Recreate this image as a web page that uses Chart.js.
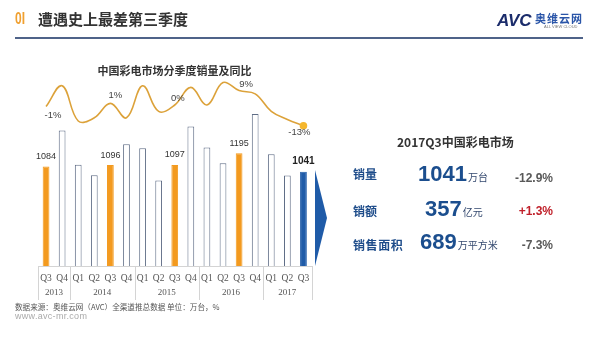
<!DOCTYPE html>
<html>
<head>
<meta charset="utf-8">
<script src="https://cdn.jsdelivr.net/npm/chart.js@4"></script>
<style>
  html, body { margin: 0; padding: 0; background: #fff; }
  #page { position: relative; width: 600px; height: 337px; overflow: hidden; background: #fff; }
  #page div { position: absolute; white-space: nowrap; line-height: 1; }
  .cjk { font-family: "Noto Sans CJK SC", sans-serif; }
  .num { font-family: "Liberation Sans", Arial, sans-serif; font-weight: bold; }
  #chartBox { left: 0; top: 0; width: 600px; height: 337px; }
  .rowLabel { left: 353px; font-size: 12px; font-weight: bold; color: #1e4c8a; }
  .big { font-size: 22px; color: #1b4e8e; }
  .big span { font-family: "Noto Sans CJK SC", sans-serif; font-weight: normal; font-size: 10px; color: #34496f; margin-left: 1px; }
  .pct { right: 47px; font-size: 12px; }
</style>
</head>
<body>
<div id="page">
  <div id="chartBox"><canvas id="tvChart"></canvas></div>

  <!-- header -->
  <div class="num" style="left:15px;top:11px;font-size:16px;color:#f0a030;transform:scaleX(0.75);transform-origin:left top;">0I</div>
  <div class="cjk" style="left:38px;top:11.4px;font-size:15px;font-weight:bold;color:#333;">遭遇史上最差第三季度</div>
  <div style="left:15px;top:37px;width:568px;height:2px;background:#4f6389;"></div>
  <div class="num" style="left:497px;top:11.6px;font-size:17px;font-style:italic;font-weight:900;color:#1b2c6b;">AVC</div>
  <div class="cjk" style="left:535px;top:12.5px;font-size:11px;font-weight:bold;color:#2a55a8;letter-spacing:1px;">奥维云网</div>
  <div style="left:544px;top:24.5px;font-size:4px;color:#777;font-family:'Liberation Sans';">ALL VIEW CLOUD</div>

  <div class="cjk" style="left:74.5px;top:65px;width:200px;text-align:center;font-size:11px;font-weight:bold;color:#333;">中国彩电市场分季度销量及同比</div>

  <!-- arrow pointing at the summary panel -->
  <svg style="position:absolute;left:314px;top:169px;" width="14" height="98">
    <polygon points="1,1 13,49 1,97" fill="#1f5ba8"/>
  </svg>

  <!-- 2017Q3 summary -->
  <div class="cjk" style="left:397px;top:136.4px;font-size:12px;font-weight:bold;color:#333;">2017Q3中国彩电市场</div>

  <div class="cjk rowLabel" style="top:168.4px;">销量</div>
  <div class="num big" style="left:418px;top:163.1px;">1041<span>万台</span></div>
  <div class="num pct" style="top:172.1px;color:#595959;">-12.9%</div>

  <div class="cjk rowLabel" style="top:205.1px;">销额</div>
  <div class="num big" style="left:425px;top:197.9px;">357<span>亿元</span></div>
  <div class="num pct" style="top:205.1px;color:#c0202a;">+1.3%</div>

  <div class="cjk rowLabel" style="top:238.7px;letter-spacing:0.6px;">销售面积</div>
  <div class="num big" style="left:420px;top:231.4px;">689<span>万平方米</span></div>
  <div class="num pct" style="top:239.1px;color:#595959;">-7.3%</div>

  <!-- footer -->
  <div class="cjk" style="left:15px;top:303.3px;font-size:7.6px;color:#555;">数据来源：奥维云网（AVC）全渠道推总数据 单位：万台，%</div>
  <div style="left:15px;top:311.9px;font-size:9px;color:#aaa;font-family:'Liberation Sans';letter-spacing:0.3px;">www.avc-mr.com</div>
</div>

<script>
// quarterly TV sales in China, 2013Q3 - 2017Q3
const quarters = ['Q3', 'Q4', 'Q1', 'Q2', 'Q3', 'Q4', 'Q1', 'Q2', 'Q3', 'Q4', 'Q1', 'Q2', 'Q3', 'Q4', 'Q1', 'Q2', 'Q3'];
const years = ['2013', '2014', '2015', '2016', '2017'];
const quartersPerYear = [2, 4, 4, 4, 3];
// sales volume, 万台
const sales = [1084, 1382, 1098, 1012, 1096, 1269, 1236, 968, 1097, 1415, 1241, 1112, 1195, 1520, 1186, 1009, 1041];
// year-on-year change, %
const yoy = [-1, 12, -10, -8, 1, -8, 12, -4, 0, 11, 0, 14, 9, 7, -4, -9, -13];

const last = sales.length - 1;
const ORANGE = '#f39a1f';
const BLUE = '#1f5ba8';

const barFill = quarters.map((q, i) => i === last ? BLUE : (q === 'Q3' ? ORANGE : '#ffffff'));
const barBorder = quarters.map((q, i) => i === last ? BLUE : (q === 'Q3' ? ORANGE : '#5f6d86'));
const pointSize = sales.map((v, i) => i === last ? 3 : 0);

// value labels over the Q3 bars and on the Q3 points of the yoy line
const labelsPlugin = {
  id: 'valueLabels',
  afterDatasetsDraw(chart, args, opts) {
    const ctx = chart.ctx;
    const bars = chart.getDatasetMeta(0).data;
    const pts = chart.getDatasetMeta(1).data;
    ctx.save();
    ctx.textAlign = 'center';
    ctx.textBaseline = 'middle';
    let k = 0;
    quarters.forEach((q, i) => {
      if (q !== 'Q3') return;
      const b = bars[i];
      ctx.font = i === last ? 'bold 10px "Liberation Sans"' : '9px "Liberation Sans"';
      ctx.fillStyle = i === last ? '#222' : '#333';
      ctx.fillText(String(sales[i]), b.x, b.y - 10);

      const p = pts[i];
      const off = opts.pctOffsets[k++];
      ctx.font = '9.5px "Liberation Sans"';
      ctx.fillStyle = '#444';
      ctx.fillText(yoy[i] + '%', p.x + off[0], p.y + off[1]);
    });
    ctx.restore();
  }
};

// year row under the quarter ticks, with separators between years
const yearsPlugin = {
  id: 'yearRow',
  afterDraw(chart) {
    const ctx = chart.ctx;
    const x = chart.scales.x;
    const half = (x.getPixelForValue(1) - x.getPixelForValue(0)) / 2;
    const top = chart.chartArea.bottom;
    ctx.save();
    ctx.strokeStyle = '#d4d4d4';
    ctx.lineWidth = 1;
    ctx.font = '9px "Liberation Serif"';
    ctx.fillStyle = '#555';
    ctx.textAlign = 'center';
    ctx.textBaseline = 'middle';
    let start = 0;
    const edges = [x.getPixelForValue(0) - half];
    years.forEach((y, n) => {
      const end = start + quartersPerYear[n] - 1;
      const cx = (x.getPixelForValue(start) + x.getPixelForValue(end)) / 2;
      ctx.fillText(y, cx, 293);
      edges.push(x.getPixelForValue(end) + half);
      start = end + 1;
    });
    edges.forEach(e => {
      const px = Math.round(e) + 0.5;
      ctx.beginPath();
      ctx.moveTo(px, top);
      ctx.lineTo(px, 300);
      ctx.stroke();
    });
    ctx.restore();
  }
};

Chart.defaults.font.family = '"Liberation Sans", Arial, sans-serif';

const ctx = document.getElementById('tvChart').getContext('2d');
const tvChart = new Chart(ctx, {
  data: {
    labels: quarters,
    datasets: [{
      type: 'bar',
      data: sales,
      backgroundColor: barFill,
      borderColor: barBorder,
      borderWidth: 1,
      barPercentage: 0.42,
      categoryPercentage: 1,
      yAxisID: 'y',
      order: 2
    }, {
      type: 'line',
      data: yoy,
      borderColor: '#dca23a',
      borderWidth: 1.6,
      tension: 0.4,
      pointRadius: pointSize,
      pointBackgroundColor: '#f5b72e',
      pointBorderColor: '#f5b72e',
      yAxisID: 'y1',
      order: 1
    }]
  },
  options: {
    responsive: true,
    maintainAspectRatio: false,
    animation: false,
    devicePixelRatio: 1,
    layout: {
      padding: { left: 38, right: 288.5, top: 70, bottom: 37 }
    },
    plugins: {
      legend: { display: false },
      tooltip: { enabled: false },
      valueLabels: {
        pctOffsets: [[7, 9], [5, -8], [3, -7], [7, -6], [-4, 7]]
      }
    },
    scales: {
      x: {
        grid: { display: false, drawTicks: false },
        border: { display: true, color: '#d4d4d4', width: 1 },
        ticks: {
          font: { family: '"Liberation Serif"', size: 9.5 },
          color: '#555',
          padding: 7,
          maxRotation: 0,
          autoSkip: false
        },
        afterFit: scale => { scale.height = 34; }
      },
      y: { display: false, min: 260, max: 1884 },
      y1: { display: false, min: -100.625, max: 21.875 }
    }
  },
  plugins: [labelsPlugin, yearsPlugin]
});
</script>
</body>
</html>
